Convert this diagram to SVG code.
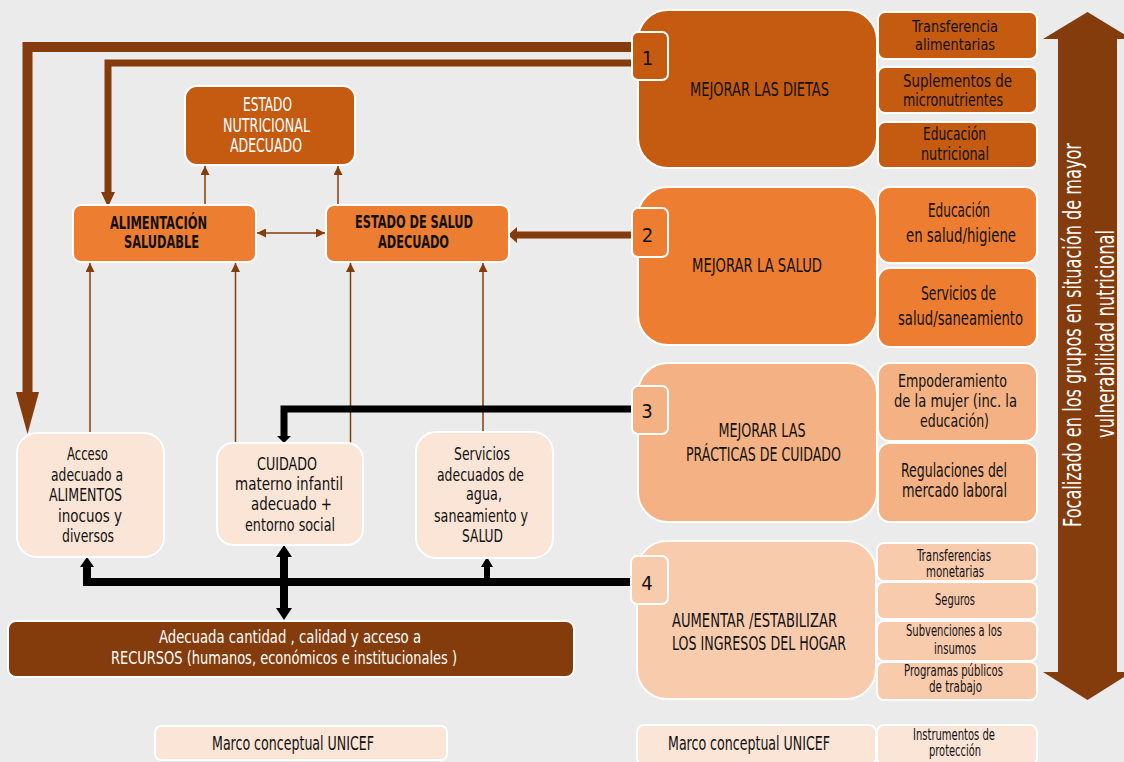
<svg xmlns="http://www.w3.org/2000/svg" width="1124" height="762" viewBox="0 0 1124 762">
<defs>
<style>
text{font-family:"DejaVu Sans Condensed","Liberation Sans Narrow","Liberation Sans",sans-serif;text-anchor:middle;fill:#111}
.w{fill:#fff}
.b{font-weight:bold}
.s15{font-size:15px}
.s16{font-size:16px}
.s17{font-size:17px}
.s18{font-size:18px}
.s19{font-size:19px}
.s20{font-size:20px}
.box{stroke:#fff;stroke-width:2}
.c1{fill:#C55A11}.c2{fill:#ED7D31}.c3{fill:#F4B183}.c4{fill:#F8CBAD}.c5{fill:#FBE5D6}.br{fill:#843C0C}
.thin{stroke:#843C0C;stroke-width:1.5;fill:none}
</style>
<marker id="ah" viewBox="0 0 10 10" refX="10" refY="5" markerWidth="9" markerHeight="9" markerUnits="userSpaceOnUse" orient="auto-start-reverse">
<path d="M0,0 L10,5 L0,10 z" fill="#843C0C"/>
</marker>
</defs>
<rect width="1124" height="762" fill="#EBEBEB"/>

<g id="connectors">
<path class="thin" d="M205,205 V166" marker-end="url(#ah)"/>
<path class="thin" d="M338,205 V166" marker-end="url(#ah)"/>
<path class="thin" d="M257,233 H325" marker-start="url(#ah)" marker-end="url(#ah)"/>
<path class="thin" d="M90,433 V263" marker-end="url(#ah)"/>
<path class="thin" d="M235.5,443 V263" marker-end="url(#ah)"/>
<path class="thin" d="M350.5,443 V263" marker-end="url(#ah)"/>
<path class="thin" d="M483,432 V263" marker-end="url(#ah)"/>
<path d="M632,47 H27.5 V393" fill="none" stroke="#843C0C" stroke-width="10"/>
<polygon points="16,392 39,392 27.5,434" fill="#843C0C"/>
<path d="M632,63 H108 V193" fill="none" stroke="#843C0C" stroke-width="7"/>
<polygon points="101,192 115,192 108,207" fill="#843C0C"/>
<path d="M632,235 H516" fill="none" stroke="#843C0C" stroke-width="7"/>
<polygon points="517,227 517,243 508,235" fill="#843C0C"/>
<path d="M632,409 H284 V437" fill="none" stroke="#000" stroke-width="7"/>
<polygon points="277,436 291,436 284,443" fill="#000"/>
<path d="M632,582 H87 V566" fill="none" stroke="#000" stroke-width="8"/>
<polygon points="80,567 94,567 87,557" fill="#000"/>
<path d="M487,582 V566" fill="none" stroke="#000" stroke-width="6"/>
<polygon points="481,567 493,567 487,557" fill="#000"/>
<path d="M284,556 V610" fill="none" stroke="#000" stroke-width="8"/>
<polygon points="276,557 292,557 284,545" fill="#000"/>
<polygon points="276,608 292,608 284,620" fill="#000"/>
</g>

<g id="estado-nutricional">
<rect class="box c1" x="185" y="86" width="170" height="79" rx="12"/>
<text class="s19 w" x="267.5" y="111" textLength="49" lengthAdjust="spacingAndGlyphs">ESTADO</text>
<text class="s19 w" x="266.5" y="132" textLength="87" lengthAdjust="spacingAndGlyphs">NUTRICIONAL</text>
<text class="s19 w" x="266" y="152" textLength="72" lengthAdjust="spacingAndGlyphs">ADECUADO</text>
</g>
<g id="alimentacion">
<rect class="box c2" x="73" y="205" width="183" height="57" rx="8"/>
<text class="s17 b" x="158.5" y="229" textLength="97" lengthAdjust="spacingAndGlyphs">ALIMENTACIÓN</text>
<text class="s17 b" x="161.5" y="248" textLength="75" lengthAdjust="spacingAndGlyphs">SALUDABLE</text>
</g>
<g id="estado-salud">
<rect class="box c2" x="326" y="205" width="183" height="57" rx="8"/>
<text class="s18 b" x="414" y="228" textLength="118" lengthAdjust="spacingAndGlyphs">ESTADO DE SALUD</text>
<text class="s18 b" x="413.5" y="248" textLength="71" lengthAdjust="spacingAndGlyphs">ADECUADO</text>
</g>

<g id="acceso">
<rect class="box c5" x="17" y="433" width="147" height="124" rx="20"/>
<text class="s18" x="87.5" y="460" textLength="41" lengthAdjust="spacingAndGlyphs">Acceso</text>
<text class="s18" x="87" y="481" textLength="72" lengthAdjust="spacingAndGlyphs">adecuado a</text>
<text class="s18" x="85.5" y="501" textLength="73" lengthAdjust="spacingAndGlyphs">ALIMENTOS</text>
<text class="s18" x="90" y="522" textLength="64" lengthAdjust="spacingAndGlyphs">inocuos  y</text>
<text class="s18" x="88" y="542" textLength="52" lengthAdjust="spacingAndGlyphs">diversos</text>
</g>
<g id="cuidado">
<rect class="box c5" x="217" y="443" width="146" height="102" rx="16"/>
<text class="s18" x="287" y="470" textLength="60" lengthAdjust="spacingAndGlyphs">CUIDADO</text>
<text class="s18" x="289" y="490" textLength="108" lengthAdjust="spacingAndGlyphs">materno  infantil</text>
<text class="s18" x="291.5" y="510" textLength="81" lengthAdjust="spacingAndGlyphs">adecuado  +</text>
<text class="s18" x="290" y="531" textLength="90" lengthAdjust="spacingAndGlyphs">entorno social</text>
</g>
<g id="servicios">
<rect class="box c5" x="416" y="432" width="137" height="126" rx="20"/>
<text class="s18" x="482" y="460" textLength="56" lengthAdjust="spacingAndGlyphs">Servicios</text>
<text class="s18" x="480.5" y="481" textLength="87" lengthAdjust="spacingAndGlyphs">adecuados de</text>
<text class="s18" x="484" y="500" textLength="36" lengthAdjust="spacingAndGlyphs">agua,</text>
<text class="s18" x="481" y="522" textLength="94" lengthAdjust="spacingAndGlyphs">saneamiento y</text>
<text class="s18" x="482.5" y="542" textLength="41" lengthAdjust="spacingAndGlyphs">SALUD</text>
</g>
<g id="recursos">
<rect class="box br" x="8" y="621" width="566" height="56" rx="8"/>
<text class="s18 w" x="290" y="643" textLength="262" lengthAdjust="spacingAndGlyphs">Adecuada  cantidad , calidad  y acceso  a</text>
<text class="s18 w" x="284" y="664" textLength="346" lengthAdjust="spacingAndGlyphs">RECURSOS  (humanos,  económicos e institucionales )</text>
</g>
<g id="marco-left">
<rect class="box c5" x="155" y="726" width="292" height="34" rx="6"/>
<text class="s19" x="293" y="750" textLength="162" lengthAdjust="spacingAndGlyphs">Marco conceptual UNICEF</text>
</g>

<g id="mejorar-dietas">
<rect class="box c1" x="638" y="10" width="239" height="158" rx="30"/>
<text class="s20" x="759.5" y="96" textLength="139" lengthAdjust="spacingAndGlyphs">MEJORAR LAS DIETAS</text>
<rect class="box c1" x="632" y="32" width="36" height="48" rx="6"/>
<text class="s20" x="647.5" y="65">1</text>
</g>
<g id="transferencia-alimentarias">
<rect class="box c1" x="878" y="12" width="159" height="47" rx="7"/>
<text class="s16" x="955" y="32" textLength="86" lengthAdjust="spacingAndGlyphs">Transferencia</text>
<text class="s16" x="955" y="50" textLength="80" lengthAdjust="spacingAndGlyphs">alimentarias</text>
</g>
<g id="suplementos">
<rect class="box c1" x="878" y="67" width="159" height="46" rx="7"/>
<text class="s17" x="957.5" y="87" textLength="109" lengthAdjust="spacingAndGlyphs">Suplementos  de</text>
<text class="s17" x="953" y="106" textLength="100" lengthAdjust="spacingAndGlyphs">micronutrientes</text>
</g>
<g id="educacion-nutricional">
<rect class="box c1" x="878" y="122" width="159" height="46" rx="7"/>
<text class="s17" x="954.5" y="140" textLength="63" lengthAdjust="spacingAndGlyphs">Educación</text>
<text class="s17" x="955" y="160" textLength="68" lengthAdjust="spacingAndGlyphs">nutricional</text>
</g>

<g id="mejorar-salud">
<rect class="box c2" x="638" y="187" width="239" height="158" rx="30"/>
<text class="s20" x="757" y="272" textLength="130" lengthAdjust="spacingAndGlyphs">MEJORAR LA SALUD</text>
<rect class="box c2" x="632" y="208" width="36" height="49" rx="6"/>
<text class="s20" x="647.5" y="242">2</text>
</g>
<g id="educacion-salud">
<rect class="box c2" x="878" y="187" width="159" height="76" rx="12"/>
<text class="s19" x="959" y="217" textLength="62" lengthAdjust="spacingAndGlyphs">Educación</text>
<text class="s19" x="961" y="242" textLength="110" lengthAdjust="spacingAndGlyphs">en salud/higiene</text>
</g>
<g id="servicios-salud">
<rect class="box c2" x="878" y="268" width="159" height="79" rx="12"/>
<text class="s19" x="958.5" y="300" textLength="75" lengthAdjust="spacingAndGlyphs">Servicios de</text>
<text class="s19" x="960.5" y="325" textLength="125" lengthAdjust="spacingAndGlyphs">salud/saneamiento</text>
</g>

<g id="mejorar-practicas">
<rect class="box c3" x="638" y="363" width="239" height="159" rx="30"/>
<text class="s20" x="762" y="437" textLength="87" lengthAdjust="spacingAndGlyphs">MEJORAR LAS</text>
<text class="s20" x="763.5" y="461" textLength="155" lengthAdjust="spacingAndGlyphs">PRÁCTICAS DE CUIDADO</text>
<rect class="box c3" x="632" y="386" width="36" height="48" rx="6"/>
<text class="s20" x="647" y="418">3</text>
</g>
<g id="empoderamiento">
<rect class="box c3" x="878" y="363" width="159" height="78" rx="12"/>
<text class="s17" x="952.5" y="387" textLength="109" lengthAdjust="spacingAndGlyphs">Empoderamiento</text>
<text class="s17" x="955.5" y="407" textLength="123" lengthAdjust="spacingAndGlyphs">de la mujer (inc. la</text>
<text class="s17" x="954.5" y="427" textLength="69" lengthAdjust="spacingAndGlyphs">educación)</text>
</g>
<g id="regulaciones">
<rect class="box c3" x="878" y="443" width="159" height="79" rx="12"/>
<text class="s19" x="954" y="477" textLength="106" lengthAdjust="spacingAndGlyphs">Regulaciones del</text>
<text class="s19" x="954.5" y="497" textLength="105" lengthAdjust="spacingAndGlyphs">mercado laboral</text>
</g>

<g id="aumentar-ingresos">
<rect class="box c4" x="637" y="541" width="239" height="158" rx="30"/>
<text class="s19" x="672" y="627" style="text-anchor:start" textLength="165" lengthAdjust="spacingAndGlyphs">AUMENTAR /ESTABILIZAR</text>
<text class="s19" x="672" y="650" style="text-anchor:start" textLength="174" lengthAdjust="spacingAndGlyphs">LOS INGRESOS DEL HOGAR</text>
<rect class="box c4" x="631" y="556" width="37" height="48" rx="6"/>
<text class="s20" x="647" y="590">4</text>
</g>
<g id="transferencias-monetarias">
<rect class="box c4" x="877" y="543" width="160" height="38" rx="7"/>
<text class="s15" x="954" y="561" textLength="74" lengthAdjust="spacingAndGlyphs">Transferencias</text>
<text class="s15" x="955" y="577" textLength="58" lengthAdjust="spacingAndGlyphs">monetarias</text>
</g>
<g id="seguros">
<rect class="box c4" x="877" y="582" width="160" height="37" rx="7"/>
<text class="s15" x="955" y="605" textLength="40" lengthAdjust="spacingAndGlyphs">Seguros</text>
</g>
<g id="subvenciones">
<rect class="box c4" x="877" y="621" width="160" height="40" rx="7"/>
<text class="s15" x="954" y="636" textLength="96" lengthAdjust="spacingAndGlyphs">Subvenciones a los</text>
<text class="s15" x="955" y="654" textLength="42" lengthAdjust="spacingAndGlyphs">insumos</text>
</g>
<g id="programas">
<rect class="box c4" x="877" y="662" width="160" height="38" rx="7"/>
<text class="s15" x="953.5" y="676" textLength="99" lengthAdjust="spacingAndGlyphs">Programas públicos</text>
<text class="s15" x="955.5" y="692" textLength="53" lengthAdjust="spacingAndGlyphs">de trabajo</text>
</g>

<g id="marco-right">
<rect class="box c5" x="637" y="725" width="239" height="40" rx="7"/>
<text class="s20" x="668" y="750" style="text-anchor:start" textLength="162" lengthAdjust="spacingAndGlyphs">Marco conceptual UNICEF</text>
</g>
<g id="instrumentos">
<rect class="box c5" x="877" y="725" width="160" height="40" rx="7"/>
<text class="s15" x="954" y="740" textLength="82" lengthAdjust="spacingAndGlyphs">Instrumentos de</text>
<text class="s15" x="955" y="756" textLength="52" lengthAdjust="spacingAndGlyphs">protección</text>
</g>

<g id="focalizado">
<polygon class="br" points="1087.5,12 1132,39 1117,39 1117,672 1132,672 1087.5,700 1043,672 1058,672 1058,39 1043,39"/>
<text class="w" style="font-size:24px" transform="translate(1081,335) rotate(-90)" textLength="384" lengthAdjust="spacingAndGlyphs">Focalizado en los grupos en situación de mayor</text>
<text class="w" style="font-size:24px" transform="translate(1114,334) rotate(-90)" textLength="208" lengthAdjust="spacingAndGlyphs">vulnerabilidad nutricional</text>
</g>
</svg>
